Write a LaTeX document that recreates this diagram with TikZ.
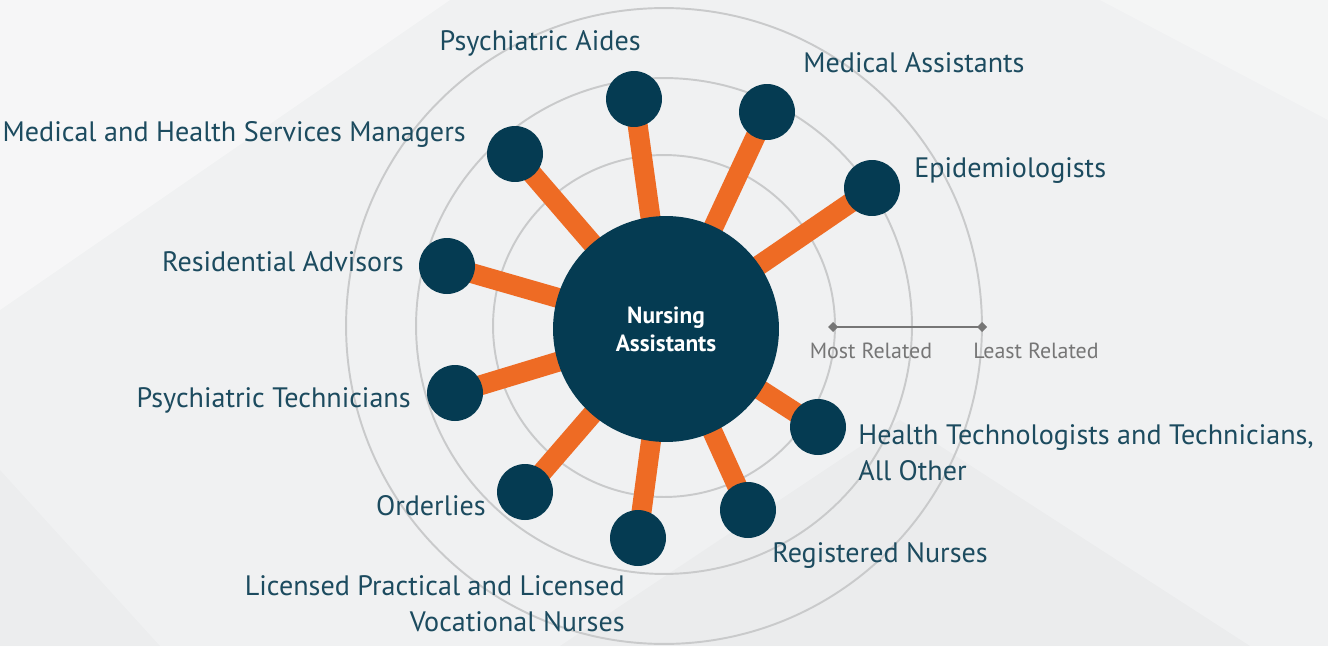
\documentclass[tikz,border=0pt]{standalone}
\usepackage{fontspec}
\setmainfont{PT Sans}
\usetikzlibrary{backgrounds}
\definecolor{hubnavy}{HTML}{053B52}
\definecolor{barorange}{HTML}{EE6B24}
\definecolor{label}{HTML}{1C4B5F}
\definecolor{ringgray}{HTML}{C9CACB}
\definecolor{scalegray}{HTML}{767676}
\definecolor{bgcol}{HTML}{F0F1F2}

\begin{document}
\begin{tikzpicture}[x=0.02cm,y=-0.02cm,text=label,
    font=\fontsize{16}{20.5}\selectfont,
    hub/.style={circle,fill=hubnavy,minimum size=4.52cm,inner sep=0pt,
      text=white,align=center,font=\bfseries\fontsize{13.3}{16}\selectfont},
    job/.style={circle,fill=hubnavy,minimum size=1.12cm,inner sep=0pt},
    bar/.style={barorange,line width=0.4cm},
    ring/.style={ringgray,line width=1.1pt},
    tag/.style={inner sep=0pt,yshift=-1.7pt},
    scaletag/.style={inner sep=0pt,text=scalegray,font=\fontsize{12.5}{14}\selectfont}]
  \useasboundingbox (0,0) rectangle (1328,646);
  \coordinate (C) at (664,326);

  \begin{scope}[on background layer]
    \fill[bgcol] (0,0) rectangle (1328,646);
    \fill[white,opacity=.4] (0,0) -- (450,0) -- (0,310) -- cycle;
    \fill[white,opacity=.3] (1100,0) -- (1328,0) -- (1328,120) -- cycle;
    \fill[black,opacity=.018] (560,646) -- (900,420) -- (1250,646) -- cycle;
    \fill[black,opacity=.015] (0,470) -- (160,646) -- (0,646) -- cycle;
    \foreach \r in {3.42,4.96,6.36}
      \draw[ring] (C) circle[radius=\r cm];
  \end{scope}

  \node[hub] (hub) at (666,329) {Nursing\\Assistants};

  \node[job] (pa) at (634,99) {};
  \node[job] (ma) at (767,112) {};
  \node[job] (mh) at (515,154) {};
  \node[job] (ep) at (872,188) {};
  \node[job] (ra) at (447,266) {};
  \node[job] (pt) at (455,393) {};
  \node[job] (ht) at (818,427) {};
  \node[job] (or) at (525,492) {};
  \node[job] (lp) at (638,538) {};
  \node[job] (rn) at (748,510) {};

  \begin{scope}[on background layer]
    \foreach \j in {pa,ma,mh,ep,ra,pt,ht,or,lp,rn}
      \draw[bar] (hub.center) -- (\j.center);
  \end{scope}

  \node[tag,anchor=east] (paL) at (641,40) {Psychiatric Aides};
  \node[tag,anchor=west] (maL) at (803,60) {Medical Assistants};
  \node[tag,anchor=east] (mhL) at (466,131) {Medical and Health Services Managers};
  \node[tag,anchor=west] (epL) at (914,168) {Epidemiologists};
  \node[tag,anchor=east] (raL) at (404,259) {Residential Advisors};
  \node[tag,anchor=east] (ptL) at (411,397) {Psychiatric Technicians};
  \node[tag,anchor=west,align=left] (htL) at (858,450)
    {Health Technologists and Technicians,\\All Other};
  \node[tag,anchor=east] (orL) at (486,503) {Orderlies};
  \node[tag,anchor=east,align=right] (lpL) at (625,601)
    {Licensed Practical and Licensed\\Vocational Nurses};
  \node[tag,anchor=west] (rnL) at (772,552) {Registered Nurses};

  \coordinate (most) at (833,327);
  \coordinate (least) at (982,327);
  \draw[scalegray,line width=1.6pt] (most) -- (least);
  \foreach \p in {most,least}
    \fill[scalegray] (\p) +(0,-5) -- +(5,0) -- +(0,5) -- +(-5,0) -- cycle;
  \node[scaletag] (mostL) at (871,351) {Most Related};
  \node[scaletag] (leastL) at (1036,351) {Least Related};
\end{tikzpicture}
\end{document}
